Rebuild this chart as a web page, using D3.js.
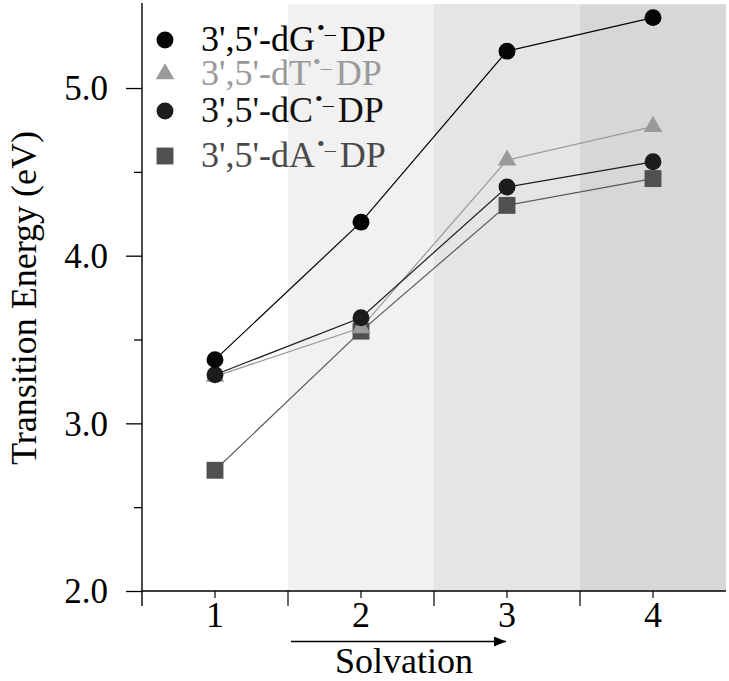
<!DOCTYPE html>
<html>
<head>
<meta charset="utf-8">
<script src="https://cdn.jsdelivr.net/npm/d3@7"></script>
<style>
  html, body { margin: 0; padding: 0; background: #fff; }
  svg { display: block; }
  text { font-family: "Liberation Serif", "Times New Roman", serif; }
</style>
</head>
<body>
<svg id="chart" width="729" height="681"></svg>
<script>
// ---- data ----
const categories = ["1", "2", "3", "4"];
const seriesNames = ["3',5'-dG", "3',5'-dT", "3',5'-dC", "3',5'-dA"];
const dG = [3.38, 4.20, 5.22, 5.42];
const dT = [3.28, 3.57, 4.57, 4.77];
const dC = [3.29, 3.63, 4.41, 4.56];
const dA = [2.72, 3.55, 4.30, 4.46];
const yMajorTicks = [2, 3, 4, 5];
const yMinorTicks = [2.5, 3.5, 4.5];
const yTickLabels = ["2.0", "3.0", "4.0", "5.0"];
const shadedCategories = ["2", "3", "4"];
const xTitle = "Solvation";
const yTitle = "Transition Energy (eV)";

// ---- styles ----
const shadeColors = ["#f1f1f1", "#e5e5e5", "#d7d7d7"];
const seriesStyle = [
  { data: dG, shape: "circle",   fill: "#050505", line: "#000000", text: "#000000" },
  { data: dT, shape: "triangle", fill: "#9a9a9a", line: "#9a9a9a", text: "#9a9a9a" },
  { data: dC, shape: "circle",   fill: "#1c1c1c", line: "#1c1c1c", text: "#111111" },
  { data: dA, shape: "square",   fill: "#505050", line: "#5a5a5a", text: "#4a4a4a" }
];
seriesStyle.forEach((s, i) => s.name = seriesNames[i]);

const svg = d3.select("#chart");
const x = d3.scaleBand().domain(categories).range([142, 726]).padding(0);
const y = d3.scaleLinear().domain([2, 5.5]).range([591, 4.2]);
const cx = c => x(c) + x.bandwidth() / 2;

// shaded bands
svg.append("g").selectAll("rect")
  .data(shadedCategories)
  .join("rect")
  .attr("x", d => x(d))
  .attr("y", y(5.5))
  .attr("width", x.bandwidth())
  .attr("height", y(2) - y(5.5))
  .attr("fill", (d, i) => shadeColors[i]);

// y axis
const yAxisG = svg.append("g").attr("transform", `translate(${x.range()[0]},0)`);
yAxisG.call(d3.axisLeft(y).tickValues(yMajorTicks).tickSize(16)
  .tickFormat((d, i) => yTickLabels[i]).tickSizeOuter(0));
yAxisG.select(".domain").remove();
yAxisG.selectAll(".tick line").attr("stroke", "#000").attr("stroke-width", 1.3);
yAxisG.selectAll(".tick text")
  .attr("x", -34).attr("dy", "0.34em")
  .style("font-size", "35px").style("font-family", "'Liberation Serif', serif").attr("fill", "#000");
const yMinor = svg.append("g").attr("transform", `translate(${x.range()[0]},0)`);
yMinor.call(d3.axisLeft(y).tickValues(yMinorTicks).tickSize(8).tickFormat(""));
yMinor.select(".domain").remove();
yMinor.selectAll(".tick line").attr("stroke", "#000").attr("stroke-width", 1.3);
svg.append("line")
  .attr("x1", x.range()[0]).attr("x2", x.range()[0])
  .attr("y1", 3).attr("y2", 606)
  .attr("stroke", "#000").attr("stroke-width", 1.4);

// x axis
svg.append("line")
  .attr("x1", x.range()[0]).attr("x2", x.range()[1])
  .attr("y1", y(2)).attr("y2", y(2))
  .attr("stroke", "#000").attr("stroke-width", 1.4);
const boundaries = categories.slice(1).map(c => x(c));
svg.append("g").selectAll("line")
  .data(boundaries)
  .join("line")
  .attr("x1", d => d).attr("x2", d => d)
  .attr("y1", y(2)).attr("y2", y(2) + 15)
  .attr("stroke", "#000").attr("stroke-width", 1.2);
const xAxisG = svg.append("g").attr("transform", `translate(0,${y(2)})`);
xAxisG.call(d3.axisBottom(x).tickSize(7).tickSizeOuter(0));
xAxisG.select(".domain").remove();
xAxisG.selectAll(".tick line").attr("stroke", "#000").attr("stroke-width", 1.2);
xAxisG.selectAll(".tick text")
  .attr("y", 36).attr("dy", 0)
  .style("font-size", "36px").style("font-family", "'Liberation Serif', serif").attr("fill", "#000");

// solvation arrow
const defs = svg.append("defs");
defs.append("marker")
  .attr("id", "arrowhead")
  .attr("viewBox", "0 0 12 10")
  .attr("refX", 12).attr("refY", 5)
  .attr("markerWidth", 12).attr("markerHeight", 10)
  .attr("markerUnits", "userSpaceOnUse")
  .attr("orient", "auto")
  .append("path").attr("d", "M0,0 L12,5 L0,10 Z").attr("fill", "#000");
svg.append("line")
  .attr("x1", x("2") + 3).attr("x2", cx("3") - 1)
  .attr("y1", 641.5).attr("y2", 641.5)
  .attr("stroke", "#000").attr("stroke-width", 1.6)
  .attr("marker-end", "url(#arrowhead)");
svg.append("text")
  .attr("x", 404).attr("y", 673)
  .attr("text-anchor", "middle")
  .style("font-size", "36px")
  .text(xTitle);

// y title
svg.append("text")
  .attr("transform", "translate(36,298) rotate(-90)")
  .attr("text-anchor", "middle")
  .style("font-size", "36px")
  .text(yTitle);

// lines
const lineGen = d3.line().x((d, i) => cx(categories[i])).y(d => y(d));
svg.append("g").selectAll("path")
  .data(seriesStyle)
  .join("path")
  .attr("d", s => lineGen(s.data))
  .attr("fill", "none")
  .attr("stroke", s => s.line)
  .attr("stroke-width", 1.2);

// markers
const symbolFor = shape => shape === "circle" ? d3.symbolCircle
  : shape === "triangle" ? d3.symbolTriangle : d3.symbolSquare;
const symbolSize = shape => shape === "circle" ? 225 : shape === "triangle" ? 150 : 285;
const drawOrder = [3, 1, 2, 0];
drawOrder.forEach(k => {
  const s = seriesStyle[k];
  svg.append("g").selectAll("path")
    .data(s.data)
    .join("path")
    .attr("transform", (d, i) => `translate(${cx(categories[i])},${y(d)})`)
    .attr("d", d3.symbol().type(symbolFor(s.shape)).size(symbolSize(s.shape)))
    .attr("fill", s.fill);
});

// legend
const legendRowsY = [40, 74, 111, 156];
const legend = svg.append("g");
seriesStyle.forEach((s, i) => {
  const ry = legendRowsY[i];
  legend.append("path")
    .attr("transform", `translate(165,${ry})`)
    .attr("d", d3.symbol().type(symbolFor(s.shape)).size(symbolSize(s.shape)))
    .attr("fill", s.fill);
  const t = legend.append("text")
    .attr("x", 201).attr("y", ry + 11)
    .attr("fill", s.text)
    .style("font-size", "36px");
  t.append("tspan").text(s.name);
  t.append("tspan").attr("dx", 2).attr("dy", -16).style("font-size", "22px").text("•");
  t.append("tspan").attr("dy", 6).style("font-size", "22px").text("–");
  t.append("tspan").attr("dx", 4).attr("dy", 10).text("DP");
});
</script>
</body>
</html>
